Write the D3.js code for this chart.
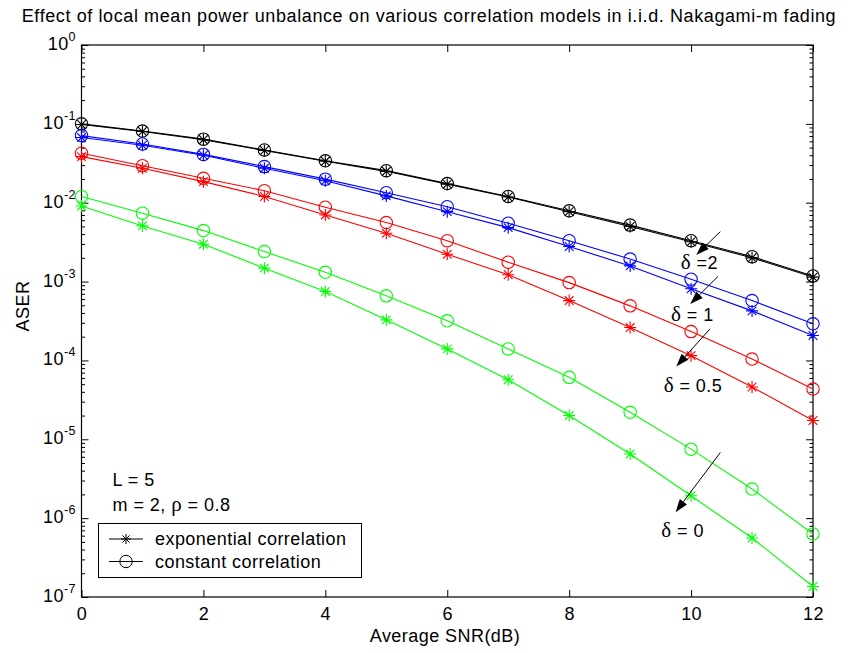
<!DOCTYPE html>
<html>
<head>
<meta charset="utf-8">
<script src="https://cdn.jsdelivr.net/npm/d3@7"></script>
<style>
body { margin: 0; background: #fff; }
text { font-family: "Liberation Sans", Arial, sans-serif; fill: #000; letter-spacing: 0.45px; }
.sym { font-family: "Liberation Serif", "Times New Roman", serif; }
</style>
</head>
<body>
<script>
// data
var snr = [0, 1, 2, 3, 4, 5, 6, 7, 8, 9, 10, 11, 12];

var expD2 = [0.098, 0.080, 0.063, 0.046, 0.0335, 0.025, 0.0172, 0.0118, 0.0077, 0.0050, 0.0032, 0.0020, 0.00114];
var conD2 = [0.100, 0.081, 0.064, 0.0467, 0.034, 0.0255, 0.0175, 0.0120, 0.0079, 0.0052, 0.0033, 0.00207, 0.00118];
var expD1 = [0.067, 0.0535, 0.040, 0.0273, 0.0190, 0.0122, 0.0077, 0.00483, 0.00278, 0.00158, 0.00081, 0.000425, 0.000207];
var conD1 = [0.071, 0.0556, 0.041, 0.0287, 0.0199, 0.0134, 0.0089, 0.0055, 0.0033, 0.00193, 0.00107, 0.000574, 0.000291];
var expD05 = [0.0384, 0.0274, 0.0185, 0.0120, 0.0070, 0.0041, 0.00222, 0.00122, 0.000574, 0.000261, 0.000115, 4.6e-5, 1.73e-5];
var conD05 = [0.0424, 0.0295, 0.0204, 0.0142, 0.00877, 0.0056, 0.0033, 0.00176, 0.00097, 0.000492, 0.000232, 0.000104, 4.33e-5];
var expD0 = [0.0091, 0.00508, 0.00298, 0.00148, 0.000747, 0.000327, 0.00014, 5.7e-5, 2.0e-5, 6.5e-6, 1.92e-6, 5.6e-7, 1.36e-7];
var conD0 = [0.0120, 0.00736, 0.00443, 0.0024, 0.00131, 0.000659, 0.000318, 0.00014, 6.1e-5, 2.2e-5, 7.5e-6, 2.34e-6, 6.3e-7];

var xTicks = [0, 2, 4, 6, 8, 10, 12];
var yExps = [0, -1, -2, -3, -4, -5, -6, -7];

var series = [
	{ values : expD2, color : "#000000", marker : "star" },
	{ values : conD2, color : "#000000", marker : "circle" },
	{ values : expD1, color : "#0000ff", marker : "star" },
	{ values : conD1, color : "#0000ff", marker : "circle" },
	{ values : expD05, color : "#ff0000", marker : "star" },
	{ values : conD05, color : "#ff0000", marker : "circle" },
	{ values : expD0, color : "#00ff00", marker : "star" },
	{ values : conD0, color : "#00ff00", marker : "circle" }
];

// delta labels and arrows (text pos, arrow start, arrow end) in data units
var notes = [
	{ label : " =2", tx : 9.83, ty : 0.00145, x1 : 10.48, y1 : 0.0043, x2 : 10.085, y2 : 0.00218 },
	{ label : " = 1", tx : 9.67, ty : 0.000315, x1 : 10.44, y1 : 0.00116, x2 : 9.987, y2 : 0.000521 },
	{ label : " = 0.5", tx : 9.55, ty : 4.0e-5, x1 : 10.31, y1 : 0.000251, x2 : 9.757, y2 : 8.4e-5 },
	{ label : " = 0", tx : 9.51, ty : 5.7e-7, x1 : 10.48, y1 : 6.8e-6, x2 : 9.746, y2 : 1.19e-6 }
];

var W = 862, H = 653;
var pLeft = 81.5, pRight = 813, pTop = 45, pBottom = 597;

var x = d3.scaleLinear().domain([ 0, 12 ]).range([ pLeft, pRight ]);
var y = d3.scaleLog().domain([ 1e-7, 1 ]).range([ pBottom, pTop ]);

var svg = d3.select("body").append("svg").attr("width", W).attr("height", H);
svg.append("rect").attr("width", W).attr("height", H).attr("fill", "#fff");

// minor log ticks
var minor = [];
yExps.forEach(function(e) {
	if (e === 0) return;
	for (var k = 2; k <= 9; k++) minor.push(k * Math.pow(10, e));
});

svg.append("g").attr("transform", "translate(" + pLeft + ",0)")
	.call(d3.axisLeft(y).tickValues(minor).tickSize(-3.5).tickFormat(""));
svg.append("g").attr("transform", "translate(" + pRight + ",0)")
	.call(d3.axisRight(y).tickValues(minor).tickSize(-3.5).tickFormat(""));

// major ticks
var yMajor = yExps.map(function(e) { return Math.pow(10, e); });
svg.append("g").attr("transform", "translate(" + pLeft + ",0)")
	.call(d3.axisLeft(y).tickValues(yMajor).tickSize(-7).tickFormat(""));
svg.append("g").attr("transform", "translate(" + pRight + ",0)")
	.call(d3.axisRight(y).tickValues(yMajor).tickSize(-7).tickFormat(""));

var xb = svg.append("g").attr("transform", "translate(0," + pBottom + ")")
	.call(d3.axisBottom(x).tickValues(xTicks).tickSize(-7).tickPadding(0));
svg.append("g").attr("transform", "translate(0," + pTop + ")")
	.call(d3.axisTop(x).tickValues(xTicks).tickSize(-7).tickFormat(""));

svg.selectAll(".domain").remove();
svg.selectAll(".tick line").attr("stroke", "#000").attr("stroke-width", 1);

xb.selectAll(".tick text").attr("y", 23).attr("dy", 0)
	.style("font-family", "Liberation Sans, Arial, sans-serif").style("font-size", "18px").attr("fill", "#000");

// y labels 10^n
yExps.forEach(function(e) {
	var t = svg.append("text").attr("x", 76).attr("y", y(Math.pow(10, e)) + 5)
		.attr("text-anchor", "end").style("font-size", "18px");
	t.append("tspan").text("10");
	t.append("tspan").attr("dy", -9).style("font-size", "12.5px").text(e === 0 ? "0" : "-" + (-e));
});

// box
svg.append("rect").attr("x", pLeft).attr("y", pTop).attr("width", pRight - pLeft)
	.attr("height", pBottom - pTop).attr("fill", "none").attr("stroke", "#000").attr("stroke-width", 1.2);

// lines and markers
var line = d3.line().x(function(d, i) { return x(snr[i]); }).y(function(d) { return y(d); });

function starPath(r) {
	var s = r * 0.72;
	return "M0," + (-r) + "V" + r + "M" + (-r) + ",0H" + r +
		"M" + (-s) + "," + (-s) + "L" + s + "," + s + "M" + (-s) + "," + s + "L" + s + "," + (-s);
}

series.forEach(function(s) {
	svg.append("path").datum(s.values).attr("d", line).attr("fill", "none")
		.attr("stroke", s.color).attr("stroke-width", 1.1);
	var m = svg.append("g").selectAll("g").data(s.values).enter().append("g")
		.attr("transform", function(d, i) { return "translate(" + x(snr[i]) + "," + y(d) + ")"; });
	if (s.marker === "star") {
		m.append("path").attr("d", starPath(6)).attr("stroke", s.color).attr("stroke-width", 1.1).attr("fill", "none");
	} else {
		m.append("circle").attr("r", 6.2).attr("stroke", s.color).attr("stroke-width", 1.1).attr("fill", "none");
	}
});

// annotations
notes.forEach(function(n) {
	var ax = x(n.x1), ay = y(n.y1), bx = x(n.x2), by = y(n.y2);
	var dx = bx - ax, dy = by - ay, len = Math.sqrt(dx * dx + dy * dy);
	var ux = dx / len, uy = dy / len, hl = 13, hw = 4.5;
	var px = bx - ux * hl, py = by - uy * hl;
	svg.append("line").attr("x1", ax).attr("y1", ay).attr("x2", px).attr("y2", py)
		.attr("stroke", "#000").attr("stroke-width", 1);
	svg.append("path").attr("d", "M" + bx + "," + by + "L" + (px - uy * hw) + "," + (py + ux * hw) +
		"L" + (px + uy * hw) + "," + (py - ux * hw) + "Z").attr("fill", "#000");
	var t = svg.append("text").attr("x", x(n.tx)).attr("y", y(n.ty)).style("font-size", "18px");
	t.append("tspan").attr("class", "sym").style("font-size", "21px").text("\u03b4");
	t.append("tspan").text(n.label);
});

// parameter text
svg.append("text").attr("x", 112.5).attr("y", 486).style("font-size", "18px").text("L = 5");
var pt = svg.append("text").attr("x", 112.5).attr("y", 511).style("font-size", "18px");
pt.append("tspan").text("m = 2, ");
pt.append("tspan").attr("class", "sym").style("font-size", "21px").text("\u03c1");
pt.append("tspan").text(" = 0.8");

// legend
var lg = svg.append("g");
lg.append("rect").attr("x", 98.5).attr("y", 523.5).attr("width", 263).attr("height", 54)
	.attr("fill", "#fff").attr("stroke", "#000").attr("stroke-width", 1);
var legendItems = [ { name : "exponential correlation", marker : "star", y : 539 },
	{ name : "constant correlation", marker : "circle", y : 561.5 } ];
legendItems.forEach(function(d) {
	lg.append("line").attr("x1", 109).attr("x2", 143).attr("y1", d.y).attr("y2", d.y)
		.attr("stroke", "#000").attr("stroke-width", 1);
	if (d.marker === "star") {
		lg.append("path").attr("transform", "translate(126," + d.y + ")").attr("d", starPath(5))
			.attr("stroke", "#000").attr("fill", "none");
	} else {
		lg.append("circle").attr("cx", 126).attr("cy", d.y).attr("r", 6.2)
			.attr("stroke", "#000").attr("fill", "none");
	}
	lg.append("text").attr("x", 155).attr("y", d.y + 6).style("font-size", "18px").text(d.name);
});

// titles
svg.append("text").attr("x", 429).attr("y", 22).attr("text-anchor", "middle")
	.style("font-size", "18px").style("letter-spacing", "0.6px")
	.text("Effect of local mean power unbalance on various correlation models in i.i.d. Nakagami-m fading");
svg.append("text").attr("x", 445).attr("y", 642).attr("text-anchor", "middle")
	.style("font-size", "18px").text("Average SNR(dB)");
svg.append("text").attr("transform", "translate(29,306) rotate(-90)").attr("text-anchor", "middle")
	.style("font-size", "18px").text("ASER");
</script>
</body>
</html>
